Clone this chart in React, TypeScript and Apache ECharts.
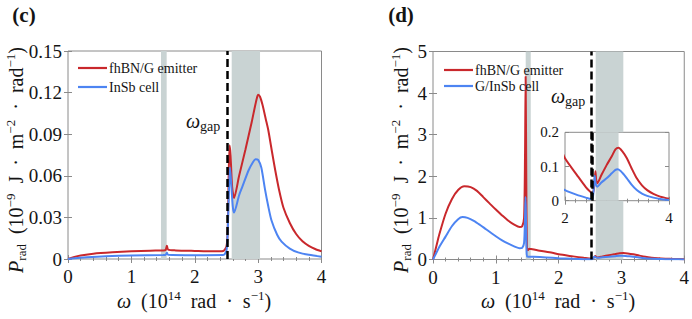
import React, { useEffect, useRef } from 'react';
import * as echarts from 'echarts';

const FONT = 'Liberation Serif';
const RED = '#c9282c';
const BLUE = '#4d84f2';
const BAND = '#c9d3d3';
const FRAME = '#8a8a8a';
const TXT = '#141414';

// tick values
const xTicks = [0, 1, 2, 3, 4];
const cYTicks = [0, 0.03, 0.06, 0.09, 0.12, 0.15];
const dYTicks = [0, 1, 2, 3, 4, 5];
const insetXTicks = [2, 3, 4];
const insetYTicks = [0, 0.1, 0.2];

// shaded bands & gap lines (omega, 1e14 rad/s)
const cBands = [[1.467, 1.557], [2.583, 3.03]];
const dBands = [[1.476, 1.556], [2.59, 3.03]];
const cGap = 2.51;
const dGap = 2.52;

// Panel (c)
const cEmitterOmega = [0, 0.1, 0.2, 0.4, 0.7, 1.0, 1.3, 1.5, 1.54, 1.56, 1.58, 1.7, 2.0, 2.3, 2.45, 2.5, 2.52, 2.535, 2.55, 2.565, 2.59, 2.62, 2.7, 2.8, 2.9, 2.95, 2.98, 3.0, 3.03, 3.07, 3.12, 3.16, 3.22, 3.27, 3.33, 3.4, 3.5, 3.6, 3.7, 3.8, 3.9, 4.0];
const cEmitterP = [0, 0.0015, 0.0025, 0.0038, 0.0048, 0.0055, 0.006, 0.0062, 0.0065, 0.0095, 0.0068, 0.0062, 0.0058, 0.0055, 0.0058, 0.009, 0.02, 0.06, 0.082, 0.075, 0.052, 0.044, 0.06, 0.079, 0.099, 0.11, 0.116, 0.1185, 0.117, 0.111, 0.101, 0.093, 0.077, 0.064, 0.05, 0.037, 0.026, 0.018, 0.0128, 0.0095, 0.0072, 0.0055];
const cCellOmega = [0, 0.1, 0.3, 0.6, 1.0, 1.5, 1.54, 1.56, 1.58, 2.0, 2.45, 2.5, 2.52, 2.54, 2.555, 2.57, 2.6, 2.62, 2.7, 2.75, 2.85, 2.92, 2.96, 3.0, 3.05, 3.11, 3.16, 3.21, 3.3, 3.37, 3.5, 3.63, 3.8, 4.0];
const cCellP = [0, 0.0006, 0.0013, 0.002, 0.0025, 0.0028, 0.003, 0.0045, 0.003, 0.0027, 0.0028, 0.006, 0.02, 0.05, 0.066, 0.058, 0.038, 0.0335, 0.046, 0.052, 0.064, 0.07, 0.072, 0.0715, 0.066, 0.0498, 0.038, 0.028, 0.0175, 0.0125, 0.0075, 0.0048, 0.003, 0.0017];

// Panel (d)
const dEmitterOmega = [0, 0.05, 0.1, 0.2, 0.3, 0.4, 0.5, 0.6, 0.7, 0.8, 0.9, 1.0, 1.1, 1.2, 1.3, 1.38, 1.42, 1.45, 1.465, 1.475, 1.485, 1.495, 1.51, 1.53, 1.56, 1.7, 1.9, 2.0, 2.23, 2.4, 2.5, 2.53, 2.56, 2.585, 2.6, 2.62, 2.7, 2.8, 2.9, 2.97, 3.03, 3.1, 3.19, 3.28, 3.38, 3.48, 3.58, 3.7, 3.83, 4.0];
const dEmitterP = [0, 0.3, 0.6, 1.1, 1.45, 1.67, 1.76, 1.74, 1.65, 1.5, 1.35, 1.2, 1.06, 0.93, 0.83, 0.78, 0.8, 1.0, 2.5, 4.4, 2.0, 0.3, 0.22, 0.26, 0.25, 0.21, 0.16, 0.124, 0.075, 0.04, 0.024, 0.02, 0.04, 0.086, 0.06, 0.051, 0.075, 0.104, 0.13, 0.15, 0.155, 0.145, 0.124, 0.095, 0.0655, 0.045, 0.031, 0.02, 0.012, 0.006];
const dCellOmega = [0, 0.05, 0.1, 0.2, 0.3, 0.4, 0.47, 0.55, 0.65, 0.75, 0.85, 1.0, 1.1, 1.2, 1.3, 1.38, 1.42, 1.45, 1.465, 1.473, 1.48, 1.49, 1.5, 1.6, 1.8, 2.0, 2.23, 2.4, 2.5, 2.53, 2.55, 2.57, 2.59, 2.62, 2.7, 2.8, 2.9, 2.97, 3.01, 3.07, 3.13, 3.19, 3.28, 3.38, 3.48, 3.58, 3.7, 3.83, 4.0];
const dCellP = [0, 0.15, 0.3, 0.55, 0.8, 0.97, 1.02, 1.0, 0.93, 0.83, 0.72, 0.56, 0.46, 0.38, 0.31, 0.27, 0.28, 0.4, 1.0, 1.5, 1.0, 0.2, 0.07, 0.065, 0.05, 0.031, 0.017, 0.009, 0.005, 0.006, 0.03, 0.073, 0.05, 0.041, 0.053, 0.0655, 0.08, 0.09, 0.092, 0.087, 0.077, 0.0655, 0.047, 0.031, 0.021, 0.014, 0.009, 0.005, 0.002];

const zip = (a: number[], b: number[]) => a.map((v, i) => [v, b[i]]);

const GRIDS = [
  { left: 68, top: 51, width: 253.5, height: 208 },
  { left: 433, top: 51.5, width: 252, height: 208 },
  { left: 565, top: 132.3, width: 104, height: 68.4 },
];

function xAxisOf(gi: number, ticks: number[], fontSize: number, margin: number, showLabel: boolean, position: string) {
  return {
    type: 'value', gridIndex: gi, position,
    min: ticks[0], max: ticks[ticks.length - 1], interval: ticks[1] - ticks[0],
    axisLine: { show: false },
    axisTick: { show: true, inside: true, length: 4, lineStyle: { color: FRAME } },
    minorTick: { show: true, splitNumber: 5, length: 2, lineStyle: { color: FRAME } },
    splitLine: { show: false }, minorSplitLine: { show: false },
    axisLabel: { show: showLabel, fontFamily: FONT, fontSize, color: TXT, margin },
  };
}
function yAxisOf(gi: number, ticks: number[], fontSize: number, margin: number, showLabel: boolean, position: string) {
  return {
    type: 'value', gridIndex: gi, position,
    min: ticks[0], max: ticks[ticks.length - 1], interval: +(ticks[1] - ticks[0]).toFixed(6),
    axisLine: { show: false },
    axisTick: { show: true, inside: true, length: 4, lineStyle: { color: FRAME } },
    splitLine: { show: false },
    axisLabel: { show: showLabel, fontFamily: FONT, fontSize, color: TXT, margin },
  };
}

const RICH = {
  it: { fontStyle: 'italic', fontSize: 20, fontFamily: FONT, fill: TXT, lineHeight: 24 },
  n: { fontSize: 20, fontFamily: FONT, fill: TXT, lineHeight: 24 },
  sup: { fontSize: 13, fontFamily: FONT, fill: TXT, verticalAlign: 'top', lineHeight: 13 },
  sub: { fontSize: 13, fontFamily: FONT, fill: TXT, verticalAlign: 'bottom', lineHeight: 13 },
  gsub: { fontSize: 14, fontFamily: FONT, fill: TXT, verticalAlign: 'bottom', lineHeight: 14 },
};

const yLabel = '{it|P}{sub|rad}{n|  (10}{sup|−9}{n|  J  ·  m}{sup|−2}{n|  ·  rad}{sup|−1}{n|)}';
const xLabel = '{it|ω}{n|  (10}{sup|14}{n|  rad  ·  s}{sup|−1}{n|)}';
const gapLabel = '{it|ω}{gsub|gap}';

function richText(x: number, y: number, text: string, rotation = 0, align = 'center') {
  return {
    type: 'text', x, y, rotation, silent: true,
    style: { text, rich: RICH, align, verticalAlign: 'middle', fontFamily: FONT, fontSize: 20, fill: TXT },
  };
}

function bandArea(bands: number[][]) {
  return bands.map(([a, b]) => [{ xAxis: a }, { xAxis: b }]);
}

function gapLine(v: number) {
  return {
    silent: true, symbol: 'none', label: { show: false },
    lineStyle: { color: '#000', width: 2.5, type: [8, 4] },
    data: [{ xAxis: v }],
  };
}

function lineSeries(name: string, data: number[][], color: string, xi: number, extra: any = {}) {
  return {
    type: 'line', name, data, xAxisIndex: xi, yAxisIndex: xi,
    showSymbol: false, symbol: 'none', smooth: 0.25, clip: true,
    lineStyle: { color, width: 2 }, itemStyle: { color },
    emphasis: { disabled: true },
    ...extra,
  };
}

export default function App() {
  const ref = useRef<HTMLDivElement>(null);
  useEffect(() => {
    if (!ref.current) return;
    const chart = echarts.init(ref.current, undefined, { renderer: 'svg' });

    // main (d) band split around the inset
    const dRange = dYTicks[dYTicks.length - 1];
    const insetBottomVal = (GRIDS[1].top + GRIDS[1].height - (GRIDS[2].top + GRIDS[2].height)) / GRIDS[1].height * dRange;
    const insetTopVal = (GRIDS[1].top + GRIDS[1].height - GRIDS[2].top) / GRIDS[1].height * dRange;
    const dMainBands: any[] = [
      [{ xAxis: dBands[0][0] }, { xAxis: dBands[0][1] }],
      [{ xAxis: dBands[1][0], yAxis: 0 }, { xAxis: dBands[1][1], yAxis: insetBottomVal }],
      [{ xAxis: dBands[1][0], yAxis: insetTopVal }, { xAxis: dBands[1][1], yAxis: dRange }],
    ];

    const legendCommon = {
      orient: 'vertical', icon: 'rect', itemWidth: 29, itemHeight: 2.2, padding: 0,
      itemGap: 3, selectedMode: false,
      textStyle: { fontFamily: FONT, fontSize: 14, color: TXT, padding: [0, 0, 0, -3] },
    };

    chart.setOption({
      animation: false,
      backgroundColor: '#fff',
      grid: GRIDS.map((g) => ({
        ...g, show: true, borderColor: FRAME, borderWidth: 1,
        backgroundColor: '#fff', containLabel: false,
      })),
      xAxis: [
        xAxisOf(0, xTicks, 19, 8, true, 'bottom'),
        xAxisOf(0, xTicks, 19, 8, false, 'top'),
        xAxisOf(1, xTicks, 19, 8, true, 'bottom'),
        xAxisOf(1, xTicks, 19, 8, false, 'top'),
        xAxisOf(2, insetXTicks, 15, 10, true, 'bottom'),
        xAxisOf(2, insetXTicks, 15, 10, false, 'top'),
      ],
      yAxis: [
        yAxisOf(0, cYTicks, 19, 6, true, 'left'),
        yAxisOf(0, cYTicks, 19, 6, false, 'right'),
        yAxisOf(1, dYTicks, 19, 6, true, 'left'),
        yAxisOf(1, dYTicks, 19, 6, false, 'right'),
        yAxisOf(2, insetYTicks, 15, 6, true, 'left'),
        yAxisOf(2, insetYTicks, 15, 6, false, 'right'),
      ],
      legend: [
        { ...legendCommon, left: 78, top: 60, textStyle: { ...legendCommon.textStyle, lineHeight: 16 }, data: ['fhBN/G emitter', 'InSb cell'] },
        { ...legendCommon, left: 444, top: 63, itemGap: 2, textStyle: { ...legendCommon.textStyle, lineHeight: 14 }, data: ['fhBN/G emitter', 'G/InSb cell'] },
      ],
      series: [
        lineSeries('fhBN/G emitter', zip(cEmitterOmega, cEmitterP), RED, 0, {
          markArea: { silent: true, itemStyle: { color: BAND }, data: bandArea(cBands) },
          markLine: gapLine(cGap),
        }),
        lineSeries('InSb cell', zip(cCellOmega, cCellP), BLUE, 0),
        lineSeries('fhBN/G emitter', zip(dEmitterOmega, dEmitterP), RED, 2, {
          markArea: { silent: true, itemStyle: { color: BAND }, data: dMainBands },
          markLine: gapLine(dGap),
        }),
        lineSeries('G/InSb cell', zip(dCellOmega, dCellP), BLUE, 2),
        lineSeries('fhBN/G emitter', zip(dEmitterOmega, dEmitterP), RED, 4, {
          markArea: { silent: true, itemStyle: { color: BAND }, data: bandArea([dBands[1]]) },
          markLine: gapLine(dGap),
        }),
        lineSeries('G/InSb cell', zip(dCellOmega, dCellP), BLUE, 4),
      ],
      graphic: [
        { type: 'text', x: 24, y: 15, silent: true, style: { text: '(c)', fontFamily: FONT, fontWeight: 'bold', fontSize: 21, fill: TXT, align: 'center', verticalAlign: 'middle' } },
        { type: 'text', x: 401, y: 15, silent: true, style: { text: '(d)', fontFamily: FONT, fontWeight: 'bold', fontSize: 21, fill: TXT, align: 'center', verticalAlign: 'middle' } },
        richText(16, 160, yLabel, Math.PI / 2),
        richText(401, 160, yLabel, Math.PI / 2),
        richText(194, 301, xLabel),
        richText(558, 301, xLabel),
        richText(186, 121, gapLabel, 0, 'left'),
        richText(551, 96, gapLabel, 0, 'left'),
      ],
    });
    return () => chart.dispose();
  }, []);
  return <div ref={ref} style={{ position: 'fixed', left: 0, top: 0, width: 692, height: 319 }} />;
}
